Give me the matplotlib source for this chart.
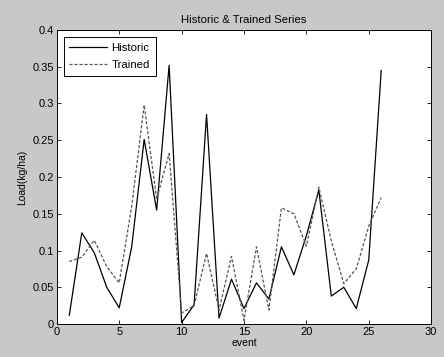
import matplotlib
matplotlib.use("Agg")
import matplotlib.pyplot as plt

events = list(range(1, 27))
historic = [0.012, 0.124, 0.097, 0.050, 0.022, 0.105, 0.251, 0.155, 0.352, 0.002,
            0.026, 0.285, 0.008, 0.061, 0.021, 0.056, 0.034, 0.105, 0.067, 0.120,
            0.182, 0.038, 0.050, 0.021, 0.087, 0.345]
trained = [0.085, 0.091, 0.114, 0.078, 0.056, 0.160, 0.298, 0.170, 0.232, 0.015,
           0.025, 0.096, 0.019, 0.092, 0.005, 0.105, 0.019, 0.158, 0.150, 0.106,
           0.186, 0.113, 0.055, 0.075, 0.133, 0.172]
xticks = [0, 5, 10, 15, 20, 25, 30]
yticks = [0, 0.05, 0.1, 0.15, 0.2, 0.25, 0.3, 0.35, 0.4]
yticklabels = ["0", "0.05", "0.1", "0.15", "0.2", "0.25", "0.3", "0.35", "0.4"]

plt.rcParams['font.family'] = ['Liberation Sans', 'DejaVu Sans']
fig = plt.figure(figsize=(4.44, 3.57), dpi=100, facecolor='#c8c8c8')
ax = fig.add_axes([0.128, 0.0924, 0.843, 0.8236])
ax.set_facecolor('white')
ax.plot(events, historic, '-', color='black', lw=0.9, label='Historic')
ax.plot(events, trained, '--', color='#555555', lw=0.9, dashes=(2.5, 1.5), label='Trained')
ax.set_xlim(0, 30)
ax.set_ylim(0, 0.4)
ax.set_xticks(xticks)
ax.set_yticks(yticks)
ax.set_yticklabels(yticklabels)
ax.tick_params(direction='in', top=True, right=True, labelsize=8, length=3, width=0.6, pad=2)
for s in ax.spines.values():
    s.set_linewidth(0.7)
ax.set_xlabel('event', fontsize=7.5, labelpad=1)
ax.set_ylabel('Load(kg/ha)', fontsize=7.5, labelpad=4)
ax.set_title('Historic & Trained Series', fontsize=8.2, pad=5)
leg = ax.legend(loc='upper left', fontsize=8.2, fancybox=False, framealpha=1,
                edgecolor='black', borderpad=0.5, handlelength=3.3, handletextpad=0.4,
                borderaxespad=0.6, labelspacing=0.65)
leg.get_frame().set_linewidth(0.7)
fig.savefig('out.png', dpi=100, facecolor=fig.get_facecolor())
